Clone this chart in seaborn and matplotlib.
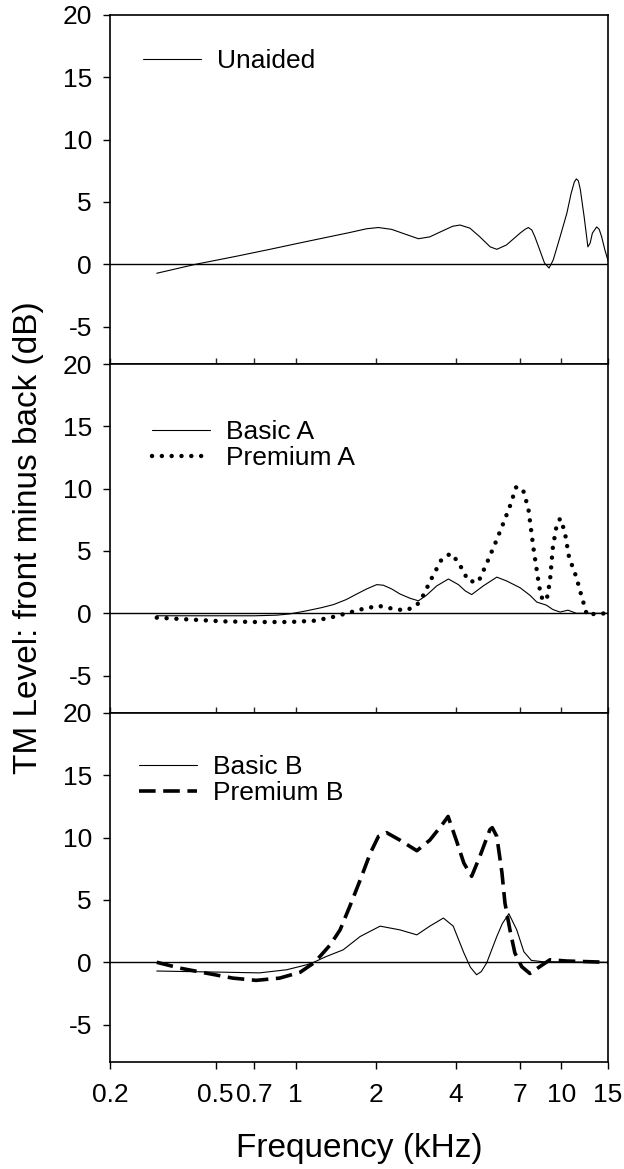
import matplotlib
matplotlib.use("Agg")
import matplotlib.pyplot as plt
import numpy as np
import pandas as pd
import seaborn as sns

# ---- data: TM level difference (front minus back), dB, vs frequency in kHz ----
unaided_f = [0.30, 0.42, 0.60, 0.80, 1.03, 1.30, 1.60, 1.85, 2.05, 2.30, 2.60, 2.90,
             3.20, 3.55, 3.90, 4.16, 4.53, 4.94, 5.40, 5.72, 6.22, 7.00, 7.30, 7.52,
             7.75, 7.96, 8.30, 8.65, 9.00, 9.33, 9.90, 10.5, 10.9, 11.2, 11.4, 11.6,
             11.8, 12.2, 12.6, 12.85, 13.1, 13.6, 13.9, 14.2, 14.6, 15.0]
unaided_db = [-0.72, 0.0, 0.65, 1.2, 1.7, 2.15, 2.55, 2.85, 2.95, 2.8, 2.4, 2.05,
              2.2, 2.65, 3.05, 3.15, 2.9, 2.2, 1.4, 1.2, 1.55, 2.5, 2.8, 2.95,
              2.75, 2.2, 1.15, 0.1, -0.3, 0.35, 2.2, 4.1, 5.7, 6.6, 6.85, 6.7,
              6.0, 3.8, 1.4, 1.7, 2.5, 3.0, 2.8, 2.2, 1.15, 0.3]

basic_a_f = [0.30, 0.40, 0.55, 0.70, 0.85, 0.95, 1.04, 1.10, 1.25, 1.39, 1.55, 1.70,
             1.85, 2.02, 2.14, 2.30, 2.47, 2.70, 2.90, 3.11, 3.40, 3.76, 4.10, 4.35,
             4.60, 5.09, 5.72, 6.22, 7.00, 7.62, 8.09, 8.80, 9.30, 9.90, 10.6, 11.4,
             12.5, 15.0]
basic_a_db = [-0.2, -0.2, -0.2, -0.2, -0.15, -0.05, 0.1, 0.2, 0.45, 0.7, 1.1, 1.55,
              1.95, 2.3, 2.25, 1.95, 1.55, 1.2, 1.0, 1.45, 2.2, 2.75, 2.3, 1.8,
              1.5, 2.2, 2.9, 2.6, 2.05, 1.45, 0.9, 0.65, 0.3, 0.1, 0.25, 0.0,
              0.0, 0.0]

premium_a_f = [0.30, 0.40, 0.535, 0.71, 0.95, 1.17, 1.35, 1.56, 1.75, 2.05, 2.40, 2.62,
               2.86, 3.00, 3.25, 3.55, 3.84, 4.10, 4.47, 4.87, 5.24, 5.64, 6.06, 6.41,
               6.76, 7.16, 7.52, 7.85, 8.20, 8.40, 8.80, 9.07, 9.30, 9.60, 9.90, 10.3,
               10.7, 11.4, 11.9, 12.2, 12.5, 13.3, 15.0]
premium_a_db = [-0.35, -0.5, -0.65, -0.7, -0.7, -0.6, -0.35, 0.0, 0.3, 0.6, 0.3, 0.25,
                0.65, 1.3, 2.8, 4.35, 4.8, 4.1, 2.6, 2.5, 4.0, 5.6, 7.25, 8.6,
                10.1, 10.0, 8.4, 5.3, 2.6, 1.3, 1.0, 2.6, 5.3, 7.0, 7.6, 6.6,
                4.5, 2.9, 1.45, 0.65, -0.15, -0.05, 0.0]

basic_b_f = [0.30, 0.40, 0.55, 0.73, 0.925, 1.10, 1.17, 1.30, 1.51, 1.75, 2.08, 2.47,
             2.86, 3.20, 3.60, 3.92, 4.30, 4.55, 4.80, 5.00, 5.24, 5.72, 6.00, 6.35,
             6.80, 7.23, 7.72, 8.50, 15.0]
basic_b_db = [-0.7, -0.75, -0.8, -0.85, -0.6, -0.2, 0.0, 0.45, 1.0, 2.07, 2.9, 2.6,
              2.2, 2.9, 3.55, 2.9, 0.75, -0.4, -1.0, -0.75, -0.05, 2.07, 3.1, 3.9,
              2.6, 0.85, 0.15, 0.05, 0.0]

premium_b_f = [0.30, 0.367, 0.46, 0.58, 0.71, 0.87, 1.04, 1.18, 1.35, 1.47, 1.60, 1.75,
               1.91, 2.05, 2.20, 2.47, 2.86, 3.20, 3.55, 3.75, 4.04, 4.30, 4.60, 4.94,
               5.39, 5.50, 5.72, 5.98, 6.14, 6.41, 6.69, 7.10, 7.62, 8.30, 9.07, 10.5,
               15.0]
premium_b_db = [0.0, -0.47, -0.87, -1.27, -1.45, -1.27, -0.8, 0.0, 1.4, 2.6, 4.5, 6.6,
                8.75, 10.1, 10.4, 9.8, 8.95, 9.8, 11.0, 11.7, 9.7, 7.95, 6.9, 8.5,
                10.65, 10.8, 10.1, 7.2, 4.75, 2.6, 0.75, -0.35, -0.9, -0.35, 0.2, 0.1,
                0.0]

freq_ticks = [0.2, 0.5, 0.7, 1, 2, 4, 7, 10, 15]
freq_tick_labels = ["0.2", "0.5", "0.7", "1", "2", "4", "7", "10", "15"]
level_ticks = [-5, 0, 5, 10, 15, 20]

# ---- styling ----
sns.set_theme(style="white")
plt.rcParams["font.family"] = ["Liberation Sans", "DejaVu Sans"]
plt.rcParams["text.color"] = "black"
plt.rcParams["axes.labelcolor"] = "black"
plt.rcParams["lines.solid_joinstyle"] = "round"

THIN = dict(color="black", linewidth=0.8, linestyle="-")
DOTTED = dict(color="black", linewidth=3.2, linestyle=(0, (0.01, 2.2)),
              dash_capstyle="round")
DASHED = dict(color="black", linewidth=2.6, linestyle=(0, (4.6, 2.1)),
              dash_capstyle="butt")

panels = [
    [("Unaided", unaided_f, unaided_db, THIN)],
    [("Basic A", basic_a_f, basic_a_db, THIN),
     ("Premium A", premium_a_f, premium_a_db, DOTTED)],
    [("Basic B", basic_b_f, basic_b_db, THIN),
     ("Premium B", premium_b_f, premium_b_db, DASHED)],
]
legend_anchor = [(0.066, 0.868), (0.084, 0.768), (0.058, 0.808)]

W, H = 624, 1169
fig = plt.figure(figsize=(W / 100, H / 100), dpi=100)
left_px, right_px, top_px, bottom_px = 110, 608, 15, 1062
panel_h = (bottom_px - top_px) / 3

for i, series in enumerate(panels):
    y_top = top_px + i * panel_h
    ax = fig.add_axes([left_px / W, 1 - (y_top + panel_h) / H,
                       (right_px - left_px) / W, panel_h / H])
    ax.axhline(0, color="black", linewidth=1.0, zorder=1)
    for label, f, db, style in series:
        sns.lineplot(x=f, y=db, ax=ax, label=label, estimator=None,
                     errorbar=None, zorder=3, **style)

    ax.set_xscale("log")
    ax.set_xlim(0.2, 15)
    ax.set_ylim(-8, 20)
    ax.set_xticks(freq_ticks)
    ax.set_xticklabels(freq_tick_labels)
    ax.xaxis.set_minor_locator(matplotlib.ticker.NullLocator())
    ax.set_yticks(level_ticks)
    ax.set_yticklabels([str(v) for v in level_ticks])
    ax.set_xlabel("")
    ax.set_ylabel("")

    for sp in ax.spines.values():
        sp.set_visible(True)
        sp.set_color("black")
        sp.set_linewidth(1.2)

    ax.tick_params(axis="y", which="major", direction="out", length=5, width=1.0,
                   pad=8, labelsize=19, colors="black", left=True)
    if i < 2:
        ax.tick_params(axis="x", which="major", direction="in", length=4,
                       width=1.0, bottom=True, labelbottom=False)
    else:
        ax.tick_params(axis="x", which="major", direction="out", length=5,
                       width=1.0, bottom=True, pad=10, labelsize=19,
                       colors="black")

    ax.legend(loc="center left", bbox_to_anchor=legend_anchor[i], frameon=False,
              fontsize=19, handlelength=2.2, handletextpad=0.62, borderpad=0,
              borderaxespad=0, labelspacing=0.08)

fig.text(29 / W, 1 - 538 / H, "TM Level: front minus back (dB)", rotation=90,
         fontsize=24, ha="center", va="center", color="black")
fig.text((left_px + right_px) / 2 / W, 1 - 1148 / H, "Frequency (kHz)",
         fontsize=24, ha="center", va="center", color="black")

fig.savefig("out.png", dpi=100, facecolor="white")
